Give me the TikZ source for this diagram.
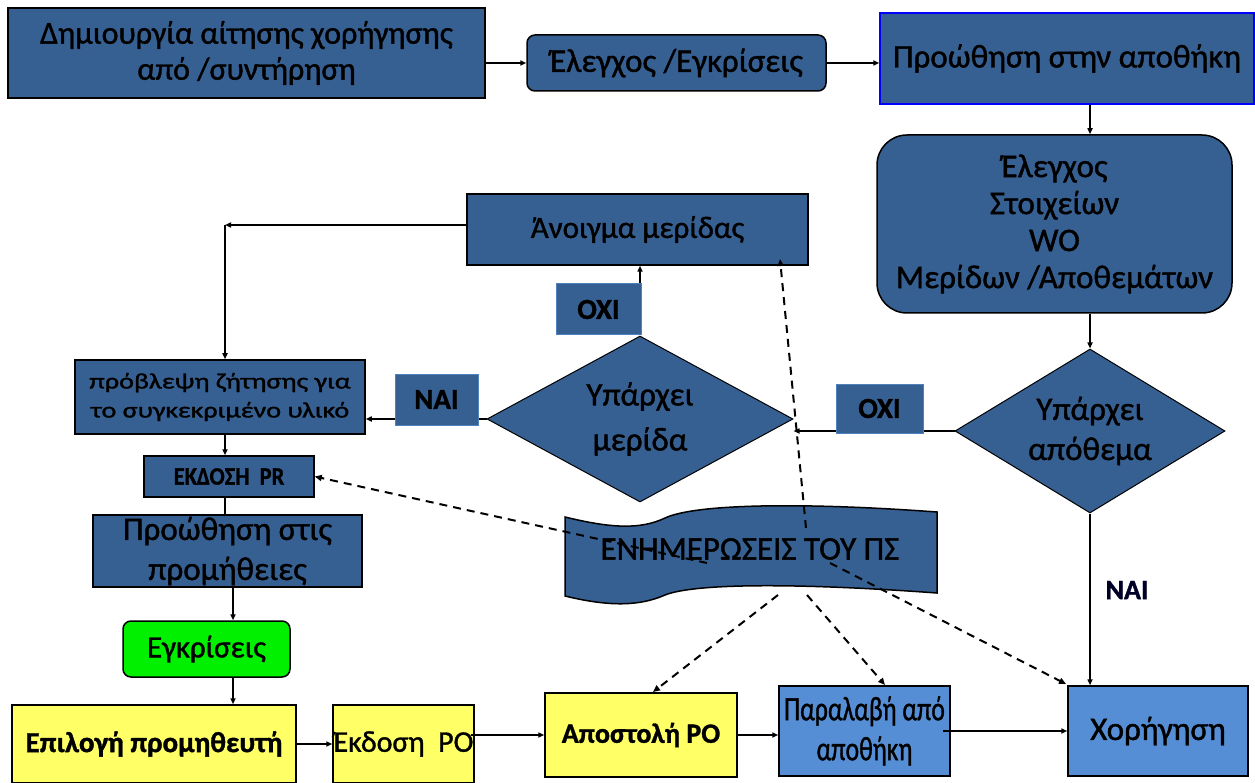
\documentclass[tikz,border=0pt]{standalone}
\usepackage{fontspec}
\usepackage{graphicx}
\setmainfont{Carlito}[FakeBold=1.2]
\usetikzlibrary{shapes.geometric,arrows.meta}
\definecolor{dkblue}{HTML}{376092}
\definecolor{ltblue}{HTML}{558ED5}
\definecolor{pyellow}{HTML}{FFFF66}
\definecolor{bgreen}{HTML}{00F000}
\definecolor{lblborder}{HTML}{4F81BD}
\tikzset{
  arr/.style={line width=1.5pt,-{Triangle[length=6pt,width=5pt]}},
  darr/.style={line width=2pt,dash pattern=on 8pt off 6pt,-{Triangle[length=7pt,width=6pt]}},
  box/.style={draw=black,line width=1.5pt,fill=dkblue,rectangle,inner sep=0pt,align=center,text=black},
  lbl/.style={fill=dkblue,draw=lblborder,line width=1pt,inner sep=0pt,font=\fontsize{29}{32}\selectfont\bfseries},
  dia/.style={draw=black,line width=1pt,fill=dkblue,diamond,inner sep=0pt,align=center,font=\fontsize{33}{42}\selectfont},
  big/.style={font=\fontsize{33}{37}\selectfont}
}
\begin{document}
\begin{tikzpicture}[x=1pt,y=-1pt]
\useasboundingbox (0,0) rectangle (1255,783);
% top row
\node[box,big,minimum width=477pt,minimum height=90pt,font=\fontsize{32}{36}\selectfont] (b1) at (246.5,53) {Δημιουργία αίτησης χορήγησης\\από /συντήρηση};
\node[box,big,rounded corners=8pt,minimum width=299pt,minimum height=56pt] (b2) at (676.5,63) {Έλεγχος /Εγκρίσεις};
\node[box,big,draw=blue,minimum width=374pt,minimum height=91pt] (b3) at (1067,58.5) {Προώθηση στην αποθήκη};
\node[box,big,rounded corners=30pt,minimum width=355pt,minimum height=178pt] (b4) at (1054.5,224) {Έλεγχος\\Στοιχείων\\WO\\Μερίδων /Αποθεμάτων};
% decisions
\node[dia,aspect=1.65,minimum width=270pt,minimum height=164pt,font=\fontsize{33}{40}\selectfont] (d1) at (1090,431) {Υπάρχει\\απόθεμα};
\node[dia,aspect=1.84,minimum width=306pt,minimum height=166pt,font=\fontsize{33}{45}\selectfont] (d2) at (640,419) {Υπάρχει\\μερίδα};
\node[box,big,minimum width=341pt,minimum height=71pt,font=\fontsize{31}{36}\selectfont] (an) at (637.5,229.5) {Άνοιγμα μερίδας};
% left column
\node[box,minimum width=290pt,minimum height=74pt,font=\fontsize{22}{29}\selectfont] (pv) at (220,397) {\scalebox{1.28}[1]{πρόβλεψη ζήτησης για}\\\scalebox{1.28}[1]{το συγκεκριμένο υλικό}};
\node[box,font=\fontsize{25}{26}\selectfont\bfseries,minimum width=170pt,minimum height=41pt] (pr) at (229,476.5) {\scalebox{0.9}[1]{ΕΚΔΟΣΗ\ \ PR}};
\node[box,big,minimum width=269pt,minimum height=72pt,font=\fontsize{33}{40}\selectfont] (pp) at (227.5,551) {Προώθηση στις\\προμήθειες};
\node[box,big,fill=bgreen,rounded corners=8pt,minimum width=167pt,minimum height=56pt,font=\fontsize{31}{36}\selectfont] (eg) at (206.5,649) {Εγκρίσεις};
% bottom row
\node[box,fill=pyellow,minimum width=284pt,minimum height=78pt,font=\fontsize{29}{32}\selectfont\bfseries] (ep) at (154,744) {Επιλογή προμηθευτή};
\node[box,big,fill=pyellow,minimum width=141pt,minimum height=78pt,font=\fontsize{30}{34}\selectfont] (ek) at (403.5,744) {Έκδοση\ \ PO};
\node[box,fill=pyellow,minimum width=192pt,minimum height=84pt,font=\fontsize{28}{32}\selectfont\bfseries] (ap) at (641,735) {Αποστολή PO};
\node[box,fill=ltblue,minimum width=171pt,minimum height=90pt,font=\fontsize{34}{40}\selectfont] (pa) at (864.5,731) {\scalebox{0.76}[1]{Παραλαβή από}\\\scalebox{0.76}[1]{αποθήκη}};
\node[box,big,fill=ltblue,minimum width=180pt,minimum height=90pt] (xo) at (1158,731) {Χορήγηση};
% document shape
\fill[dkblue,draw=black,line width=1.5pt] (565,517) .. controls (610,528) and (640,530) .. (665,518) .. controls (695,504) and (800,502) .. (937,512)
  -- (937,593) .. controls (800,583) and (695,583) .. (665,595) .. controls (640,606) and (610,607) .. (565,596) -- cycle;
\node[big] (doc) at (750,549) {ΕΝΗΜΕΡΩΣΕΙΣ ΤΟΥ ΠΣ};
% helper coordinates
\coordinate (c1) at (225,225);
\coordinate (vx) at (233,0);
\coordinate (s1) at (707,563);
\coordinate (s2) at (806,528);
\coordinate (s3) at (830,563);
\coordinate (s4) at (778,595);
\coordinate (s5) at (807,595);
\coordinate (t2) at (780,259);
\coordinate (t4) at (653,692);
\coordinate (t5) at (885,685);
\coordinate (t3) at (1066,684);
% solid connectors
\draw[arr] (b1.east|-b2.west) -- (b2.west);
\draw[arr] (b2.east) -- (b2.east-|b3.west);
\draw[arr] (b3.south-|d1.north) -- (b4.north-|d1.north);
\draw[arr] (b4.south-|d1.north) -- (d1.north);
\draw[arr] (d1.west) -- (d1.west-|d2.east);
\draw[arr] (d1.south) -- (d1.south|-xo.north);
\draw[arr] (d2.north) -- (d2.north|-an.south);
\draw[arr] (d2.west) -- (d2.west-|pv.east);
\draw[arr] (an.west|-c1) -- (c1);
\draw[arr] (c1) -- (c1|-pv.north);
\draw[arr] (c1|-pv.south) -- (c1|-pr.north);
\draw[line width=1.5pt] (c1|-pr.south) -- (c1|-pp.north);
\draw[arr] (vx|-pp.south) -- (vx|-eg.north);
\draw[arr] (vx|-eg.south) -- (vx|-ep.north);
\draw[arr] (ep.east|-ek.west) -- (ek.west);
\draw[arr] ([xshift=-4pt]ek.east|-ap.west) -- (ap.west);
\draw[arr] (ap.east) -- (ap.east-|pa.west);
\draw[arr] ([xshift=-8pt]pa.east) -- (xo.west);
% labels on lines
\node[lbl,minimum width=87pt,minimum height=49pt] (oxi1) at (879.5,408.5) {ΟΧΙ\hspace{6pt}};
\node[lbl,minimum width=85pt,minimum height=51pt] (oxi2) at (598.5,309.5) {ΟΧΙ\hspace{12pt}};
\node[lbl,minimum width=83pt,minimum height=51pt] (nai1) at (436.5,399.5) {ΝΑΙ\hspace{8pt}};
\node[font=\fontsize{28}{30}\selectfont\bfseries,text=black!85!blue] (nai2) at (1127,590) {ΝΑΙ};
% dashed connectors
\draw[darr] (s1) -- (pr.east);
\draw[darr] (s2) -- (t2);
\draw[darr] (s3) -- (t3);
\draw[darr] (s4) -- (t4);
\draw[darr] (s5) -- (t5);
\end{tikzpicture}
\end{document}
